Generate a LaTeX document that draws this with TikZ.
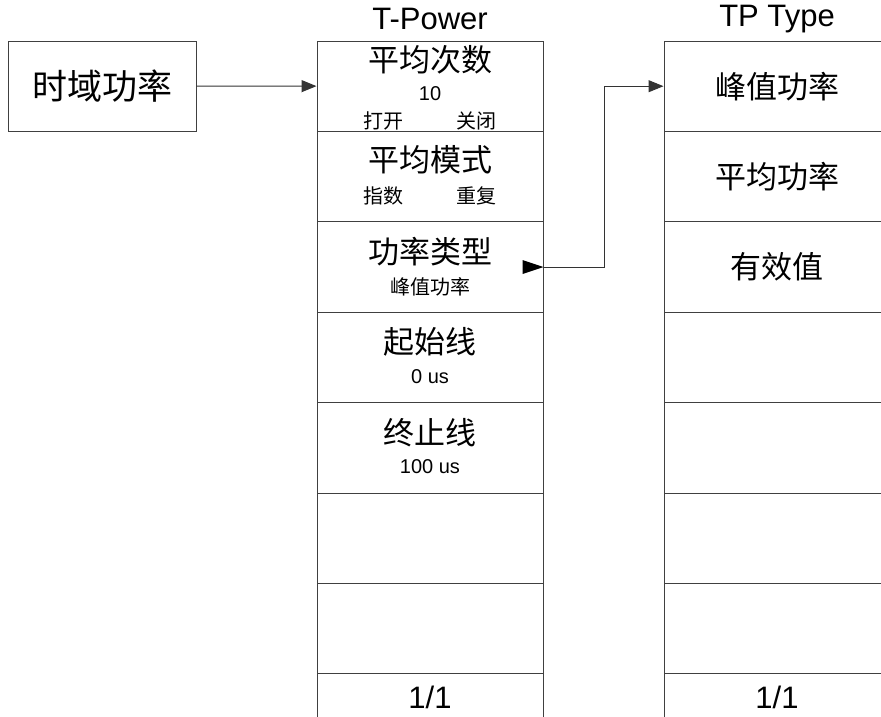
\documentclass[tikz,border=0pt]{standalone}
\usepackage{fontspec}
\setmainfont{Liberation Sans}
\newfontfamily\cjk{Noto Sans CJK SC}
\usetikzlibrary{arrows.meta}

\begin{document}
\begin{tikzpicture}[
    x=1pt, y=-1pt,
    cell/.style={draw=black!75, line width=1pt, minimum width=226pt, minimum height=90.4pt, inner sep=0pt},
    srcbox/.style={draw=black!75, line width=1pt, minimum width=188pt, minimum height=90pt, inner sep=0pt, font=\cjk\fontsize{35}{40}\selectfont},
    big/.style={font=\cjk\fontsize{31}{36}\selectfont, inner sep=0pt},
    small/.style={font=\cjk\fontsize{20}{24}\selectfont, inner sep=0pt},
    num/.style={font=\fontsize{20}{24}\selectfont, inner sep=0pt},
    head/.style={font=\fontsize{31}{36}\selectfont, inner sep=0pt},
    arr/.style={-{Triangle[length=15pt, width=12pt]}, line width=1pt, draw=black!80}
]
\useasboundingbox (0,0) rectangle (881,716);
\clip (0,0) rectangle (881,716);

\node[srcbox] (tdp) at (102,86) {时域功率};

\node[head] (ptitle) at (430,19) {T-Power};
\node[cell] (p1) at (430,86.2) {};
\node[cell] (p2) at (430,176.6) {};
\node[cell] (p3) at (430,267) {};
\node[cell] (p4) at (430,357.4) {};
\node[cell] (p5) at (430,447.8) {};
\node[cell] (p6) at (430,538.2) {};
\node[cell] (p7) at (430,628.6) {};
\node[cell] (p8) at (430,719) {};

\node[big] (avg) at (430,60) {平均次数};
\node[num] (avgval) at (430,94) {10};
\node[small] (avgon) at (383,121) {打开};
\node[small] (avgoff) at (476,121) {关闭};
\node[big] (mode) at (430,160) {平均模式};
\node[small] (modeexp) at (383,196) {指数};
\node[small] (moderep) at (476,196) {重复};
\node[big] (ptype) at (430,252) {功率类型};
\node[small] (ptypeval) at (430,287) {峰值功率};
\node[big] (start) at (430,342) {起始线};
\node[num] (startval) at (430,377) {0 us};
\node[big] (stop) at (430,433) {终止线};
\node[num] (stopval) at (430,467) {100 us};
\node[head] (ppage) at (430,697) {1/1};

\node[head] (ttitle) at (777,19) {TP Type};
\node[cell, big] (t1) at (777,86.2) {峰值功率};
\node[cell, big] (t2) at (777,176.6) {平均功率};
\node[cell, big] (t3) at (777,267) {有效值};
\node[cell] (t4) at (777,357.4) {};
\node[cell] (t5) at (777,447.8) {};
\node[cell] (t6) at (777,538.2) {};
\node[cell] (t7) at (777,628.6) {};
\node[cell] (t8) at (777,719) {};
\node[head] (tpage) at (777,697) {1/1};

\draw[arr] (tdp) -- (p1);
\fill (p3.east) -- ++(-21,7) -- ++(0,-14) -- cycle;
\draw[arr] (p3.east) -- ++(61,0) |- (t1.west);
\end{tikzpicture}
\end{document}
